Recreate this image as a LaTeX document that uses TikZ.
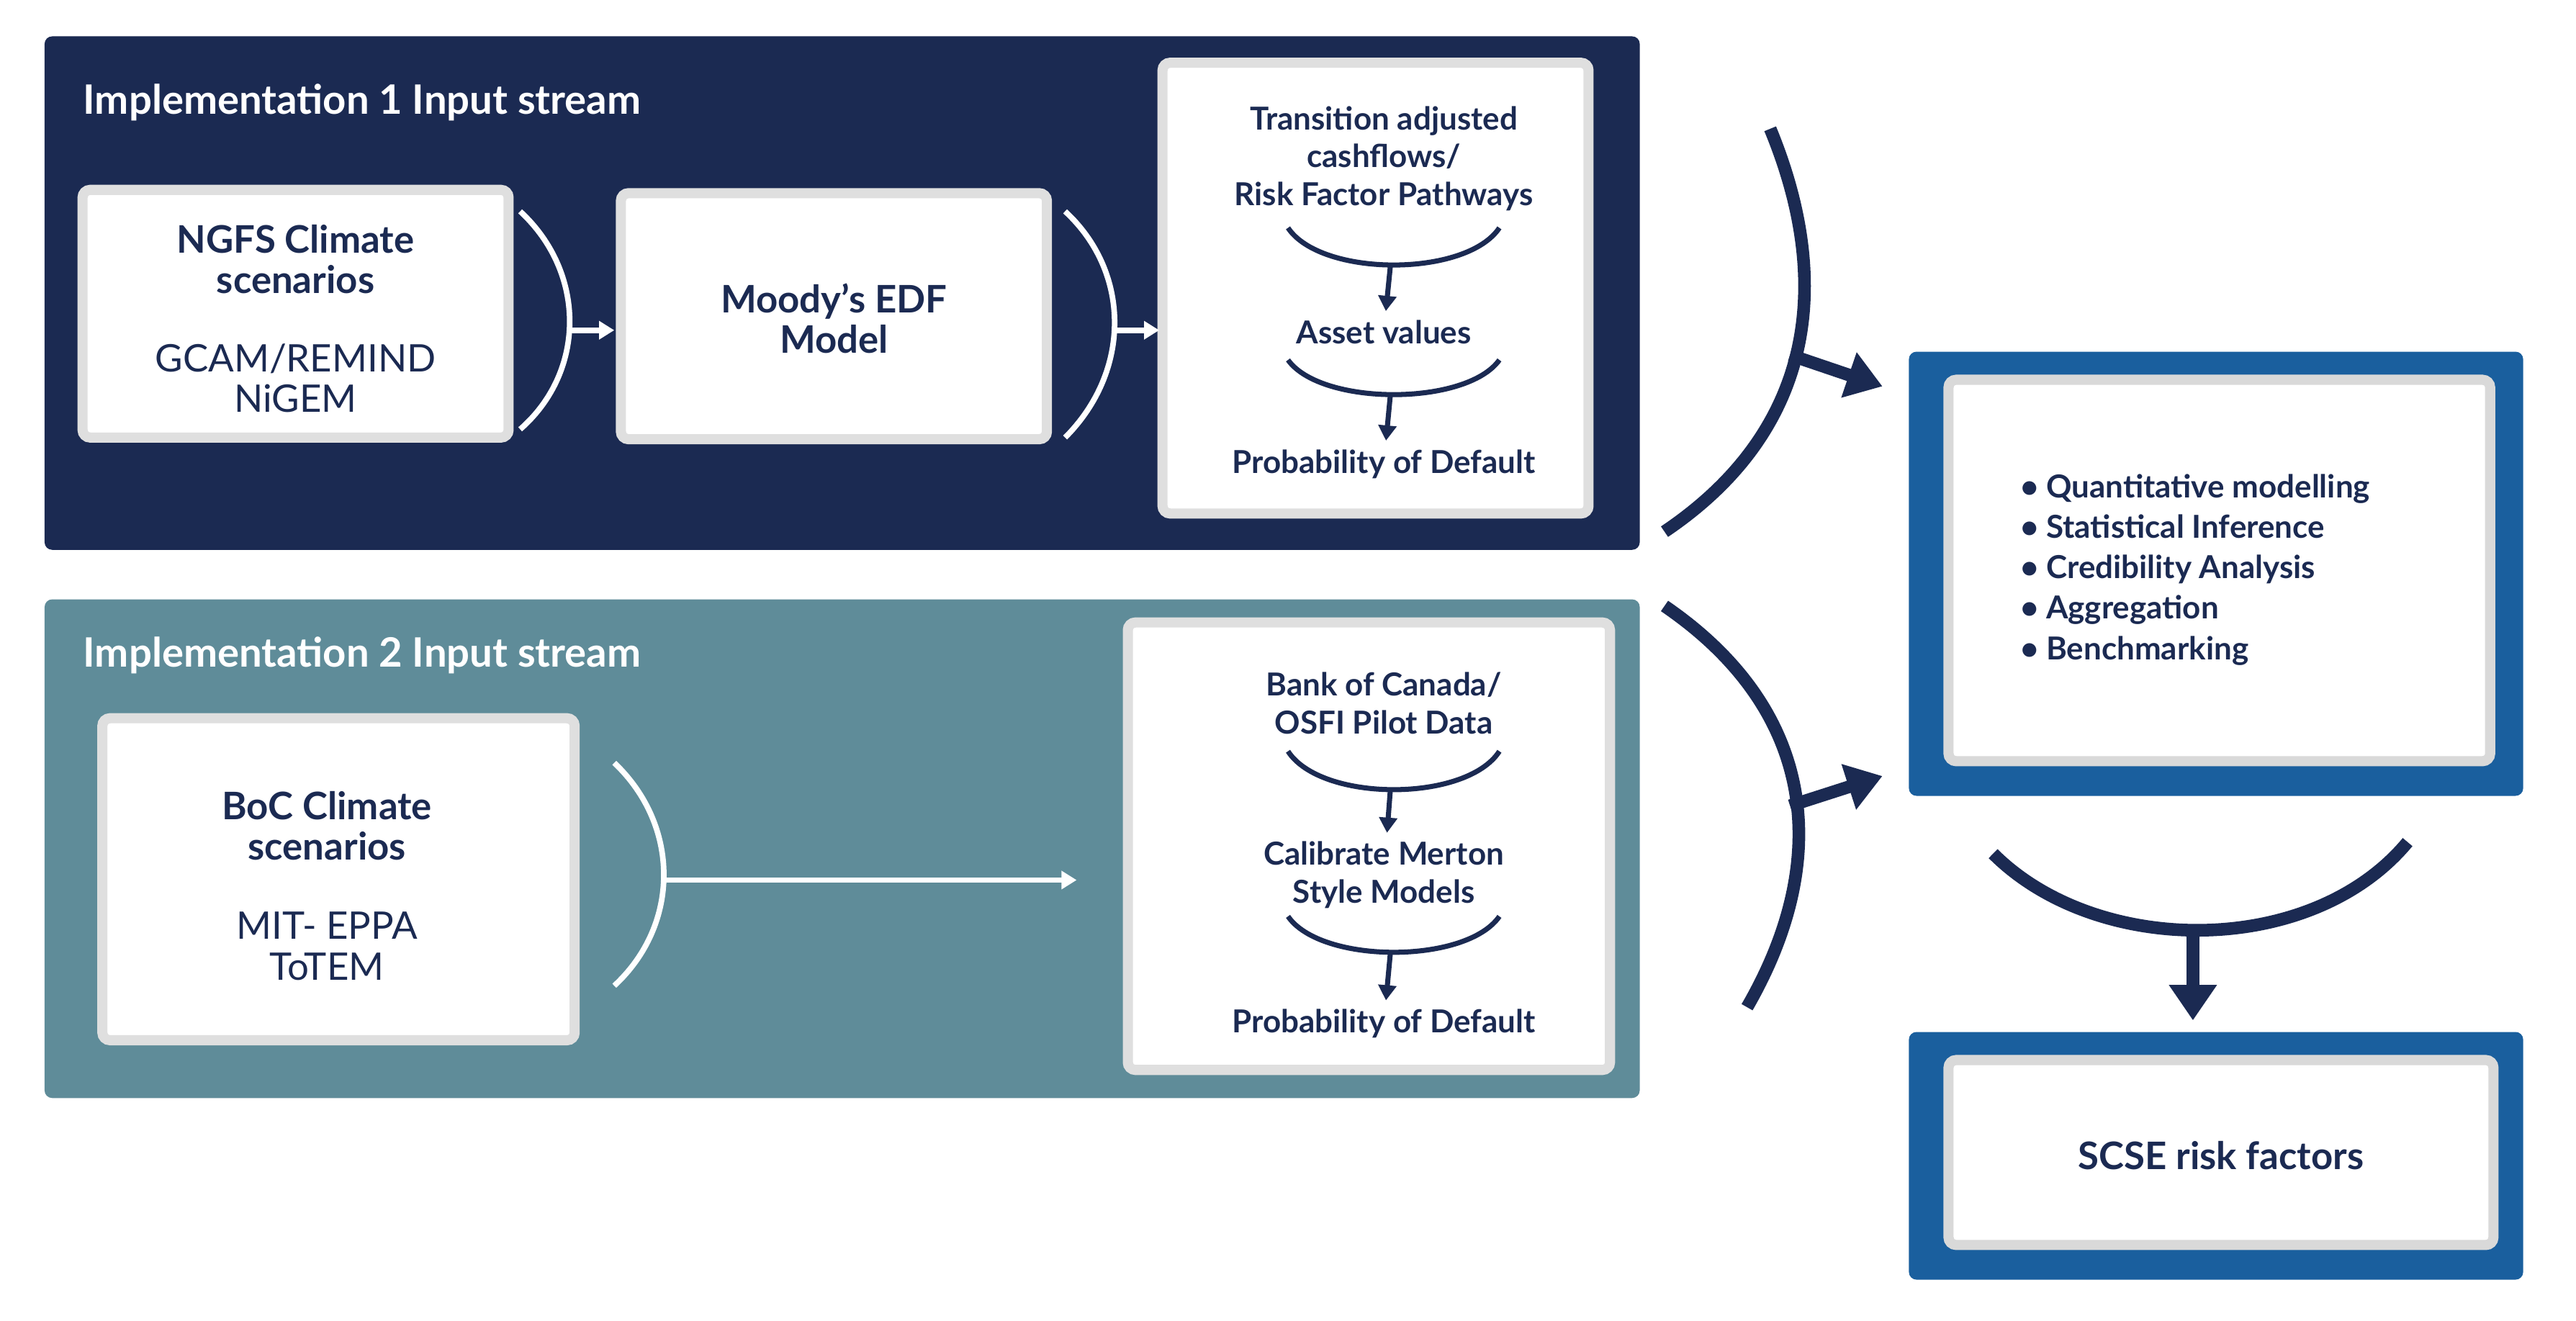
\documentclass[tikz,border=0pt]{standalone}
\usepackage{fontspec}
\setmainfont{Lato}
\usetikzlibrary{arrows.meta}
\definecolor{navy}{HTML}{1B2A52}
\definecolor{tealp}{HTML}{5F8C99}
\definecolor{blueb}{HTML}{1A5F9E}
\begin{document}
\begin{tikzpicture}[x=0.02294cm, y=-0.02294cm,
  panel/.style={fill=#1, rounded corners=3pt},
  card/.style={fill=white, draw=gray!25, line width=4pt, rounded corners=3pt},
  paneltitle/.style={anchor=west, text=white, font=\fontsize{16}{19}\selectfont\bfseries},
  headtext/.style={align=center, text=navy, font=\fontsize{15}{16}\selectfont\bfseries},
  subtext/.style={align=center, text=navy, font=\fontsize{15}{16}\selectfont},
  steptext/.style={align=center, text=navy, font=\fontsize{12.5}{15}\selectfont\bfseries},
  wline/.style={white, line width=2.2pt},
  nline/.style={navy, line width=2pt},
  bline/.style={navy, line width=5pt},
  wtip/.style={-{Triangle[width=7pt,length=6pt]}},
  btip/.style={-{Triangle[width=18pt,length=14pt]}}]
\useasboundingbox (0,0) rectangle (1560,800);

% input stream panels
\fill[panel=navy] (27,22) rectangle (993,333);
\fill[panel=tealp] (27,363) rectangle (993,665);
\node[paneltitle] (t1) at (45,62) {Implementation 1 Input stream};
\node[paneltitle] (t2) at (45,397) {Implementation 2 Input stream};

% stream 1
\draw[card] (50,115) rectangle (308,265);
\node[headtext] (ngfs) at (179,157) {NGFS Climate\\scenarios};
\node[subtext] (gcam) at (179,229) {GCAM/REMIND\\NiGEM};
\draw[card] (376,117) rectangle (634,266);
\node[headtext] (edf) at (505,193) {Moody’s EDF\\Model};
\draw[card] (704,38) rectangle (962,311);
\node[steptext] (cash) at (838,96) {Transition adjusted\\cashflows/\\Risk Factor Pathways};
\node[steptext] (asset) at (838,201) {Asset values};
\node[steptext] (pd1) at (838,281) {Probability of Default};

\draw[wline] (315,128) .. controls (355,165) and (355,225) .. (315,260);
\coordinate (b1) at (345,200);
\coordinate (e1) at (372,200);
\draw[wline, wtip] (b1) -- (e1);
\draw[wline] (645,128) .. controls (685,165) and (685,225) .. (645,265);
\coordinate (b2) at (675,200);
\coordinate (e2) at (702,200);
\draw[wline, wtip] (b2) -- (e2);

\draw[nline] (780,138) .. controls (800,168) and (888,168) .. (908,138);
\coordinate (u1) at (842,161);
\draw[nline, wtip] (u1) -- (asset);
\draw[nline] (780,218) .. controls (800,246) and (888,246) .. (908,218);
\coordinate (u2) at (842,239);
\draw[nline, wtip] (u2) -- (pd1);

% stream 2
\draw[card] (62,435) rectangle (348,630);
\node[headtext] (boc) at (198,500) {BoC Climate\\scenarios};
\node[subtext] (mit) at (198,573) {MIT- EPPA\\ToTEM};
\draw[card] (683,377) rectangle (975,648);
\node[steptext] (bank) at (838,426) {Bank of Canada/\\OSFI Pilot Data};
\node[steptext] (merton) at (838,530) {Calibrate Merton\\Style Models};
\node[steptext] (pd2) at (838,620) {Probability of Default};

\draw[wline] (372,462) .. controls (412,500) and (412,560) .. (372,597);
\coordinate (b3) at (402,533);
\coordinate (e3) at (652,533);
\draw[wline, wtip] (b3) -- (e3);
\draw[nline] (780,455) .. controls (800,486) and (888,486) .. (908,455);
\coordinate (u3) at (842,478);
\draw[nline, wtip] (u3) -- (merton);
\draw[nline] (780,555) .. controls (800,584) and (888,584) .. (908,555);
\coordinate (u4) at (842,577);
\draw[nline, wtip] (u4) -- (pd2);

% analysis and output
\fill[blueb, rounded corners=3pt] (1156,213) rectangle (1528,482);
\draw[card, draw=gray!30] (1180,230) rectangle (1508,461);
\node[steptext, align=left, anchor=west] (methods) at (1218,345)
  {\textbullet\ Quantitative modelling\\[1pt]\textbullet\ Statistical Inference\\[1pt]\textbullet\ Credibility Analysis\\[1pt]\textbullet\ Aggregation\\[1pt]\textbullet\ Benchmarking};
\fill[blueb, rounded corners=3pt] (1156,625) rectangle (1528,775);
\draw[card, draw=gray!30] (1180,642) rectangle (1510,754);
\node[headtext] (scse) at (1345,700) {SCSE risk factors};

\draw[bline] (1072,78) .. controls (1110,170) and (1100,260) .. (1008,322);
\coordinate (m1) at (1084,215);
\coordinate (m1e) at (1140,234);
\draw[bline, btip] (m1) -- (m1e);
\draw[bline] (1008,367) .. controls (1100,430) and (1110,520) .. (1058,610);
\coordinate (m2) at (1084,488);
\coordinate (m2e) at (1140,470);
\draw[bline, btip] (m2) -- (m2e);
\draw[bline] (1207,517) .. controls (1270,580) and (1400,580) .. (1458,510);
\coordinate (m3) at (1328,565);
\coordinate (m3e) at (1328,618);
\draw[bline, btip] (m3) -- (m3e);
\end{tikzpicture}
\end{document}
